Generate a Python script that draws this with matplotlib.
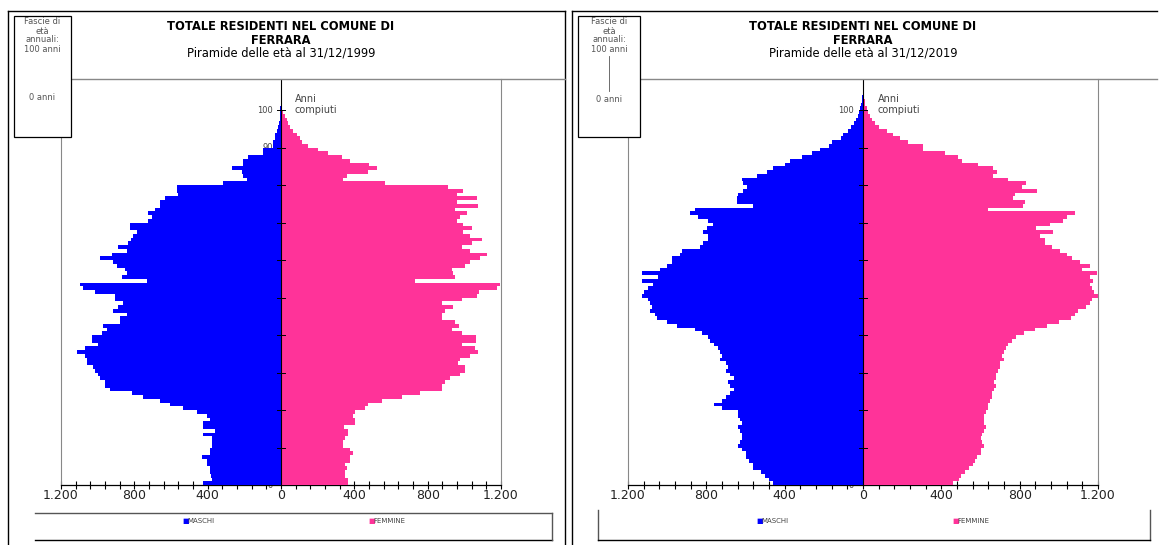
import numpy as np
import matplotlib.pyplot as plt
from matplotlib.patches import Rectangle
from matplotlib.lines import Line2D

ages = np.arange(0, 105)

# 31/12/1999 - residenti per anni compiuti (0..104)
maschi_1999 = [424, 378, 380, 387, 387, 405, 405, 433, 387, 387,
               378, 378, 378, 427, 360, 424, 424, 387, 405, 460,
               533, 605, 660, 751, 815, 933, 960, 960, 987, 996,
               1015, 1024, 1060, 1060, 1069, 1115, 1069, 996, 1033, 1033,
               978, 951, 969, 878, 878, 842, 915, 887, 860, 905,
               905, 1015, 1078, 1096, 731, 867, 840, 851, 895, 916,
               987, 922, 840, 889, 834, 818, 807, 786, 824, 824,
               725, 704, 725, 687, 660, 660, 633, 562, 567, 567,
               316, 185, 207, 213, 267, 207, 207, 180, 96, 96,
               45, 45, 33, 33, 22, 16, 12, 8, 6, 4,
               3, 2, 1, 0, 0]
femmine_1999 = [367, 367, 349, 349, 358, 349, 376, 376, 391, 376,
                340, 340, 349, 367, 367, 344, 404, 404, 395, 404,
                458, 476, 549, 658, 758, 876, 876, 895, 922, 976,
                1004, 1004, 967, 976, 1031, 1076, 1058, 985, 1064, 1064,
                985, 931, 973, 949, 876, 876, 895, 940, 876, 985,
                1067, 1082, 1176, 1195, 731, 949, 940, 931, 1004, 1031,
                1085, 1122, 1031, 985, 1040, 1095, 1031, 995, 1040, 995,
                958, 976, 1013, 949, 1076, 958, 1067, 958, 991, 913,
                567, 340, 358, 476, 522, 482, 376, 331, 258, 204,
                149, 113, 104, 85, 67, 50, 40, 30, 22, 13,
                8, 4, 2, 1, 0]

# 31/12/2019
maschi_2019 = [460, 480, 500, 520, 560, 560, 580, 600, 600, 620,
               640, 630, 620, 620, 630, 640, 620, 630, 640, 640,
               720, 760, 720, 700, 680, 660, 680, 690, 660, 680,
               700, 690, 700, 730, 720, 730, 740, 760, 780, 790,
               820, 860, 950, 1000, 1050, 1060, 1090, 1080, 1090, 1100,
               1130, 1120, 1100, 1070, 1130, 1045, 1130, 1037, 1003, 977,
               977, 934, 926, 832, 815, 790, 790, 815, 798, 764,
               790, 841, 883, 858, 560, 645, 645, 637, 611, 594,
               611, 620, 543, 492, 458, 400, 373, 313, 262, 220,
               175, 160, 110, 100, 75, 60, 45, 35, 26, 20,
               15, 10, 6, 4, 2]
femmine_2019 = [460, 490, 500, 520, 540, 560, 570, 580, 600, 600,
                620, 610, 600, 610, 620, 630, 620, 620, 620, 630,
                640, 640, 650, 660, 660, 670, 680, 670, 680, 680,
                690, 700, 700, 720, 710, 720, 730, 740, 760, 780,
                820, 880, 940, 1000, 1060, 1080, 1100, 1140, 1160, 1170,
                1200, 1180, 1170, 1159, 1176, 1159, 1197, 1117, 1159, 1108,
                1066, 1040, 1006, 963, 929, 929, 904, 972, 883, 955,
                1023, 1040, 1083, 640, 819, 827, 768, 776, 887, 810,
                832, 742, 666, 683, 666, 589, 504, 487, 419, 308,
                308, 231, 189, 155, 121, 80, 61, 45, 35, 27,
                20, 12, 8, 5, 3]

date_labels = ["31/12/1999", "31/12/2019"]
x_ticks = [-1200, -800, -400, 0, 400, 800, 1200]
x_tick_labels = ["1.200", "800", "400", "0", "400", "800", "1.200"]
y_ticks = list(range(0, 101, 10))

BLUE = "#0000FF"
PINK = "#FF3399"
W, H = 1159, 545

fig = plt.figure(figsize=(W / 100, H / 100), dpi=100)


def fx(px):
    return px / W


def fy(py):
    return 1 - py / H


def fline(x0, y0, x1, y1, color="black", lw=1.0):
    fig.add_artist(Line2D([fx(x0), fx(x1)], [fy(y0), fy(y1)],
                          color=color, lw=lw, transform=fig.transFigure))


def draw_panel(left, right, maschi, femmine, date):
    ax = fig.add_axes([fx(left), fy(485), fx(right - left), (485 - 79) / H])
    ax.barh(ages, [-v for v in maschi], height=1.0, align="edge",
            color=BLUE, zorder=3)
    ax.barh(ages, femmine, height=1.0, align="edge", color=PINK, zorder=3)
    ax.set_xlim(-1200, 1200)
    ax.set_ylim(0, 108.3)
    ax.axvline(0, color="black", lw=0.8, zorder=4)

    ax.set_xticks(x_ticks)
    ax.set_xticklabels(x_tick_labels, fontsize=9, color="#222222")
    ax.set_xticks(np.arange(-1200, 1201, 80), minor=True)
    ax.tick_params(axis="x", which="both", direction="inout", length=6,
                   width=0.8, pad=0)
    ax.set_yticks([])
    ax.spines["top"].set_visible(False)
    ax.spines["left"].set_color("#888888")
    ax.spines["right"].set_color("#888888")
    ax.spines["bottom"].set_linewidth(0.9)

    # etichette dell'asse delle eta, sotto le barre
    for a in y_ticks:
        ax.plot([-20, 20], [a, a], color="black", lw=0.7, zorder=4)
        ax.text(-45, a, str(a), ha="right", va="center", fontsize=6,
                color="#444444", zorder=2)
    ax.text(75, 101.5, "Anni\ncompiuti", ha="left", va="center",
            fontsize=7, color="#444444", linespacing=1.1)

    c = (left + right) / 2
    fig.text(fx(c), fy(27), "TOTALE RESIDENTI NEL COMUNE DI", ha="center",
             va="center", fontsize=8.3, fontweight="bold")
    fig.text(fx(c), fy(40), "FERRARA", ha="center", va="center",
             fontsize=8.3, fontweight="bold")
    fig.text(fx(c), fy(53), "Piramide delle età al " + date, ha="center",
             va="center", fontsize=8.3)
    return ax


def legend_item(px, color, label):
    fig.text(fx(px), fy(521), "■", color=color, fontsize=5, ha="left",
             va="center")
    fig.text(fx(px + 5), fy(521), label, fontsize=5, ha="left", va="center",
             color="#444444")


# pannello sinistro
fline(8, 11, 565, 11)
fline(8, 11, 8, 545)
fline(565, 11, 565, 545)
fline(71, 79, 565, 79, color="#888888")
draw_panel(61, 501, maschi_1999, femmine_1999, date_labels[0])
fig.add_artist(Rectangle((fx(14), fy(137)), fx(57), (137 - 16) / H,
                         transform=fig.transFigure, facecolor="white",
                         edgecolor="black", lw=0.9, zorder=5))
for txt, py in [("Fascie di", 22), ("età", 31), ("annuali:", 40),
                ("100 anni", 49), ("0 anni", 98)]:
    fig.text(fx(42), fy(py), txt, ha="center", va="center", fontsize=6,
             color="#555555", zorder=6)
fline(35, 513, 552, 513, color="#555555")
fline(35, 540, 552, 540)
fline(552, 513, 552, 540, color="#555555")
legend_item(182, BLUE, "MASCHI")
legend_item(368, PINK, "FEMMINE")

# pannello destro
fline(572, 11, 1157, 11)
fline(572, 11, 572, 545)
fline(640, 79, 1157, 79, color="#888888")
draw_panel(628, 1098, maschi_2019, femmine_2019, date_labels[1])
fig.add_artist(Rectangle((fx(578), fy(137)), fx(62), (137 - 16) / H,
                         transform=fig.transFigure, facecolor="white",
                         edgecolor="black", lw=0.9, zorder=5))
for txt, py in [("Fascie di", 22), ("età", 31), ("annuali:", 40),
                ("100 anni", 49), ("0 anni", 99)]:
    fig.text(fx(609), fy(py), txt, ha="center", va="center", fontsize=6,
             color="#555555", zorder=6)
fig.add_artist(Line2D([fx(609), fx(609)], [fy(56), fy(91)], color="#555555",
                      lw=0.6, transform=fig.transFigure, zorder=6))
fline(598, 510, 598, 540, color="#555555")
fline(1150, 510, 1150, 540, color="#555555")
fline(598, 540, 1150, 540)
legend_item(756, BLUE, "MASCHI")
legend_item(952, PINK, "FEMMINE")

fig.savefig("out.png", dpi=100)
